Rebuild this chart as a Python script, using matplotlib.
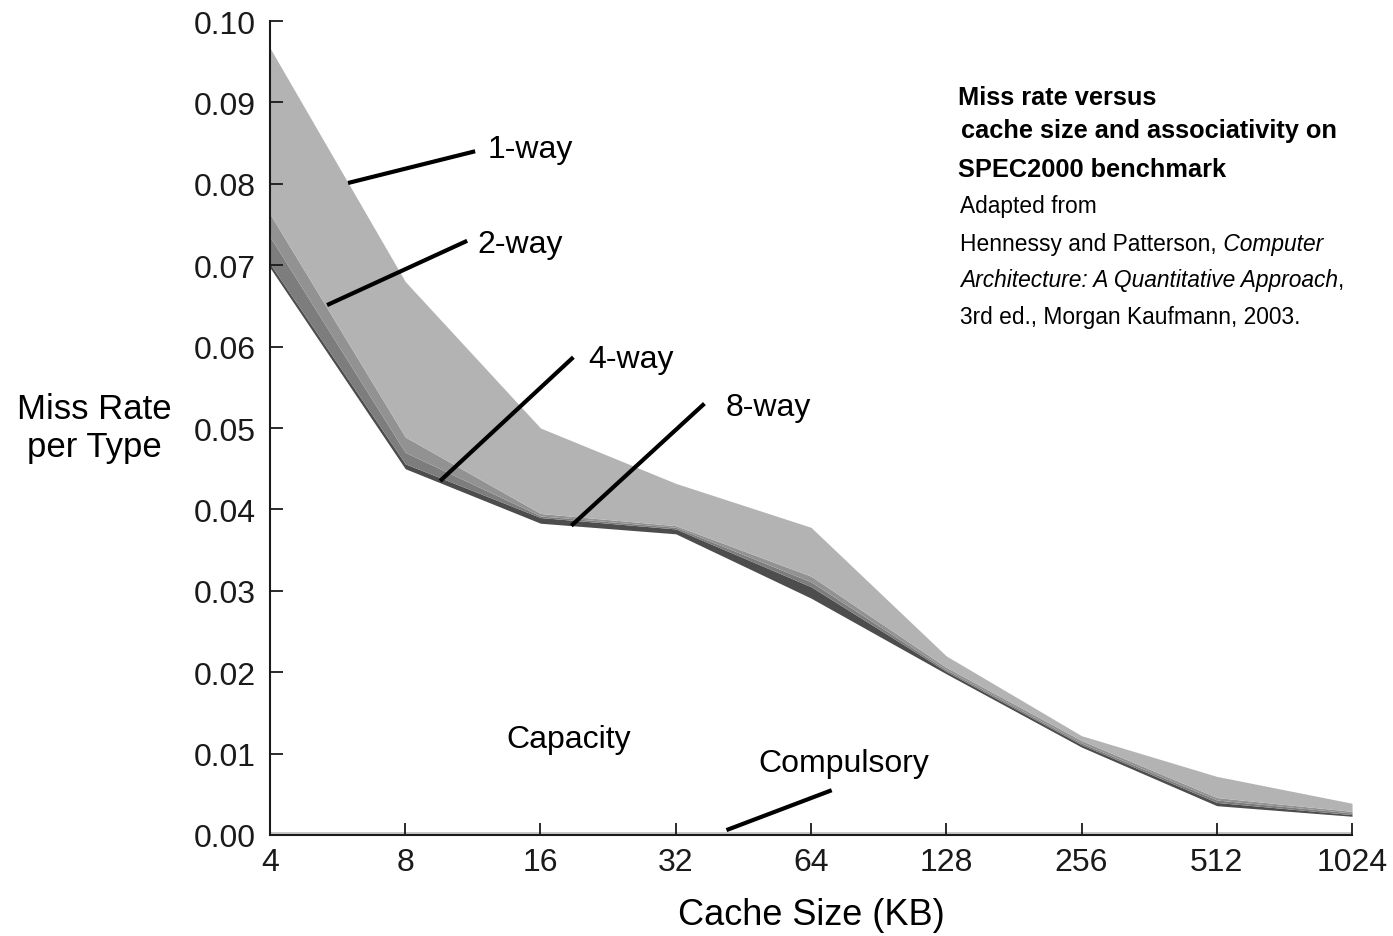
import numpy as np
import matplotlib
matplotlib.use('Agg')
import matplotlib.pyplot as plt

# cache sizes (KB) and cumulative miss rates
sizes = ['4', '8', '16', '32', '64', '128', '256', '512', '1024']
compulsory = [0.0004, 0.0004, 0.0004, 0.0004, 0.0004, 0.0004, 0.0004, 0.0004, 0.0004]
capacity = [0.0697, 0.0450, 0.0383, 0.0370, 0.0291, 0.0198, 0.0108, 0.0036, 0.0023]
way8 = [0.0702, 0.0456, 0.0390, 0.0376, 0.0305, 0.0201, 0.0111, 0.0040, 0.0025]
way4 = [0.0735, 0.0470, 0.0392, 0.0378, 0.0311, 0.0203, 0.0113, 0.0043, 0.0027]
way2 = [0.0763, 0.0489, 0.0395, 0.0380, 0.0318, 0.0206, 0.0116, 0.0046, 0.0029]
way1 = [0.0967, 0.0680, 0.0500, 0.0432, 0.0378, 0.0220, 0.0122, 0.0072, 0.0039]

plt.rcParams['font.family'] = ['Liberation Sans', 'DejaVu Sans']
narrow = ['Liberation Sans Narrow', 'Liberation Sans', 'DejaVu Sans']

fig = plt.figure(figsize=(13.93, 9.37), dpi=100)
ax = fig.add_axes([0.1938, 0.1078, 0.7768, 0.8687])

x = np.arange(len(sizes))
ax.fill_between(x, 0, compulsory, color='#c8c8c8', lw=0)
ax.fill_between(x, capacity, way8, color='#4d4d4d', lw=0)
ax.fill_between(x, way8, way4, color='#7d7d7d', lw=0)
ax.fill_between(x, way4, way2, color='#929292', lw=0)
ax.fill_between(x, way2, way1, color='#b3b3b3', lw=0)

ax.set_xlim(0, len(sizes) - 1)
ax.set_ylim(0, 0.10)
ax.set_xticks(x)
ax.set_xticklabels(sizes)
ax.set_yticks(np.arange(0, 0.101, 0.01))
ax.set_yticklabels(['%.2f' % v for v in np.arange(0, 0.101, 0.01)])
ax.tick_params(direction='in', length=9, width=1.3, labelsize=23, colors='#1a1a1a')
ax.tick_params(axis='y', pad=10)
ax.tick_params(axis='x', pad=9)
for s in ['top', 'right']:
    ax.spines[s].set_visible(False)
for s in ['left', 'bottom']:
    ax.spines[s].set_linewidth(1.5)
    ax.spines[s].set_color('#1a1a1a')

ax.set_xlabel('Cache Size (KB)', fontsize=26, labelpad=14)
fig.text(0.068, 0.543, 'Miss Rate\nper Type', fontsize=25, ha='center', va='center',
         linespacing=1.2)

# leader lines and labels
lk = dict(color='black', lw=3, solid_capstyle='butt')
fs = 23
ax.plot([0.577, 1.517], [0.0801, 0.0840], **lk)
ax.text(1.61, 0.0843, '1-way', fontsize=fs, va='center')
ax.plot([0.422, 1.458], [0.0651, 0.0730], **lk)
ax.text(1.53, 0.0726, '2-way', fontsize=fs, va='center')
ax.plot([1.258, 2.243], [0.0435, 0.0587], **lk)
ax.text(2.35, 0.0585, '4-way', fontsize=fs, va='center')
ax.plot([2.228, 3.212], [0.0380, 0.0530], **lk)
ax.text(3.37, 0.0526, '8-way', fontsize=fs, va='center')
ax.text(2.21, 0.0118, 'Capacity', fontsize=fs, ha='center', va='center')
ax.text(4.24, 0.0088, 'Compulsory', fontsize=fs, ha='center', va='center')
ax.plot([3.375, 4.153], [0.0006, 0.0055], **lk)

# note block, with mixed upright / italic pieces
renderer = fig.canvas.get_renderer()


def note_line(x0, y, parts):
    xx = x0
    for txt, bold, ital in parts:
        t = fig.text(xx, y, txt, fontsize=18.3 if bold else 16.4, family=narrow,
                     va='center',
                     fontweight='bold' if bold else 'normal',
                     fontstyle='italic' if ital else 'normal')
        bb = t.get_window_extent(renderer)
        xx = fig.transFigure.inverted().transform((bb.x1, bb.y0))[0]


lines = [
    (958, 98, [('Miss rate versus', True, False)]),
    (961, 131, [('cache size and associativity on', True, False)]),
    (958, 170, [('SPEC2000 benchmark', True, False)]),
    (960, 207, [('Adapted from', False, False)]),
    (960, 244, [('Hennessy and Patterson,', False, False), (' Computer', False, True)]),
    (960, 281, [('Architecture: A Quantitative Approach', False, True), (',', False, False)]),
    (960, 318, [('3rd ed., Morgan Kaufmann, 2003.', False, False)]),
]
for px, py, parts in lines:
    note_line(px / 1393, 1 - py / 937, parts)

fig.savefig('out.png', dpi=100)
